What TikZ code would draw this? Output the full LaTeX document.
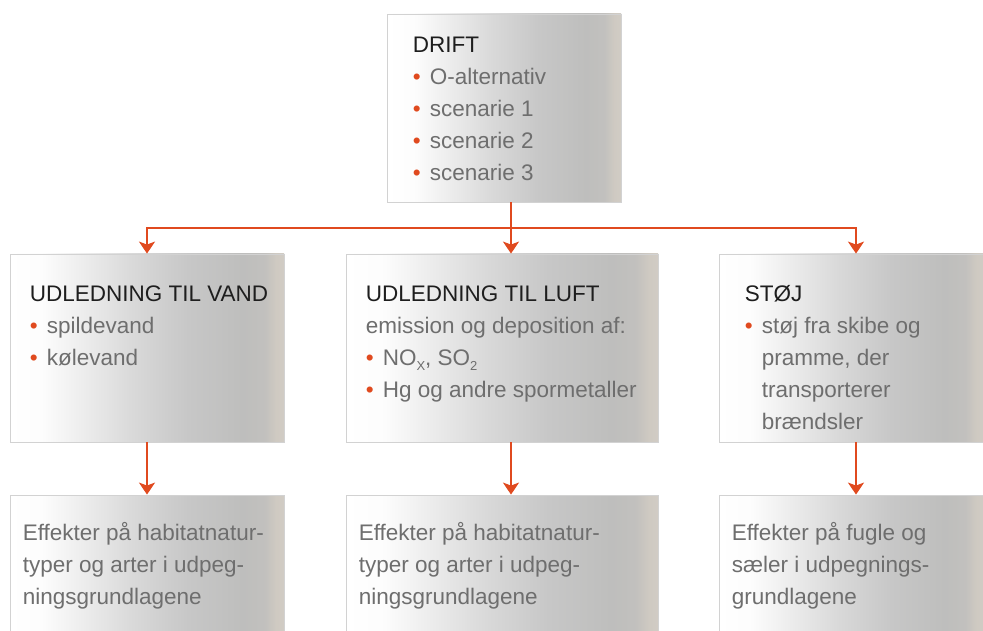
\documentclass[tikz,border=0pt]{standalone}
\usepackage{fontspec}
\setmainfont{Liberation Sans}
\usetikzlibrary{arrows.meta,positioning}
\definecolor{roed}{HTML}{E04A1F}
\definecolor{moerk}{HTML}{1E1E1E}
\definecolor{graa}{HTML}{6E6E6E}
\definecolor{kant}{HTML}{D2D2D2}
\pgfdeclarehorizontalshading{kasseskygge}{100bp}{rgb(0bp)=(1,1,1); rgb(25bp)=(1,1,1); rgb(31bp)=(0.99,0.99,0.99); rgb(47.5bp)=(0.85,0.85,0.85); rgb(57.5bp)=(0.78,0.78,0.78); rgb(67.5bp)=(0.745,0.745,0.74); rgb(71.5bp)=(0.76,0.755,0.745); rgb(73.5bp)=(0.81,0.79,0.76); rgb(75bp)=(0.82,0.80,0.77); rgb(100bp)=(0.82,0.80,0.77)}
\newcommand\bul{\makebox[17pt][l]{\color{roed}\textbullet}}
\newcommand\ind{\hspace*{17pt}}
\newcommand\subtxt[1]{\raisebox{-5pt}{\fontsize{13}{13}\selectfont #1}}
\newcommand\titel[1]{\strut{\color{moerk}#1}}
\begin{document}
\begin{tikzpicture}[x=1pt, y=1pt,
                kasse/.style={draw=kant, line width=0.8pt, shade, shading=kasseskygge, inner sep=0pt},
                tekst/.style={align=left, inner sep=0pt, text=graa, font=\fontsize{22.5}{32}\selectfont},
                pil/.style={draw=roed, line width=2.4pt, -{Stealth[length=12pt,width=16pt,inset=3pt]}},
                linje/.style={draw=roed, line width=2.4pt},
            ]
            \useasboundingbox (0,0) rectangle (983,630);
            % kasser
            \node[kasse, minimum width=234pt, minimum height=188pt] (drift) at (504,522) {};
            \node[kasse, minimum width=274pt, minimum height=188pt] (vand) at (147,282) {};
            \node[kasse, minimum width=312pt, minimum height=188pt] (luft) at (502,282) {};
            \node[kasse, minimum width=265pt, minimum height=188pt] (stoej) at (851.5,282) {};
            \node[kasse, minimum width=274pt, minimum height=145pt] (effvand) at (147,62.5) {};
            \node[kasse, minimum width=312pt, minimum height=145pt] (effluft) at (502,62.5) {};
            \node[kasse, minimum width=265pt, minimum height=145pt] (effstoej) at (851.5,62.5) {};
            % tekster
            \node[tekst, below right=16.6pt and 26pt of drift.north west] (drifttxt)
                {\titel{DRIFT}\\ \bul O-alternativ\\ \bul scenarie 1\\ \bul scenarie 2\\ \bul scenarie 3};
            \node[tekst, below right=25.6pt and 20pt of vand.north west] (vandtxt)
                {\titel{UDLEDNING TIL VAND}\\ \bul spildevand\\ \bul kølevand};
            \node[tekst, below right=25.6pt and 20pt of luft.north west] (lufttxt)
                {\titel{UDLEDNING TIL LUFT}\\ emission og deposition af:\\
                 \bul NO\subtxt{X}, SO\subtxt{2}\\ \bul Hg og andre spormetaller};
            \node[tekst, below right=25.6pt and 26pt of stoej.north west] (stoejtxt)
                {\titel{STØJ}\\ \bul støj fra skibe og\\ \ind pramme, der\\ \ind transporterer\\ \ind brændsler};
            \node[tekst, below right=23pt and 13pt of effvand.north west] (effvandtxt)
                {\strut Effekter på habitatnatur-\\ typer og arter i udpeg-\\ ningsgrundlagene};
            \node[tekst, below right=23pt and 13pt of effluft.north west] (efflufttxt)
                {\strut Effekter på habitatnatur-\\ typer og arter i udpeg-\\ ningsgrundlagene};
            \node[tekst, below right=23pt and 13pt of effstoej.north west] (effstoejtxt)
                {\strut Effekter på fugle og\\ sæler i udpegnings-\\ grundlagene};
            % pile
            \coordinate (split) at (511,402);
            \draw[linje] (drift.south -| split) -- (split);
            \draw[pil] (split) -| (vand.north);
            \draw[pil] (split) -- (split |- luft.north);
            \draw[pil] (split) -| ([xshift=4.5pt]stoej.north);
            \draw[pil] (vand.south) -- (effvand.north);
            \draw[pil] (luft.south -| split) -- (effluft.north -| split);
            \draw[pil] ([xshift=4.5pt]stoej.south) -- ([xshift=4.5pt]effstoej.north);
        \end{tikzpicture}
\end{document}
